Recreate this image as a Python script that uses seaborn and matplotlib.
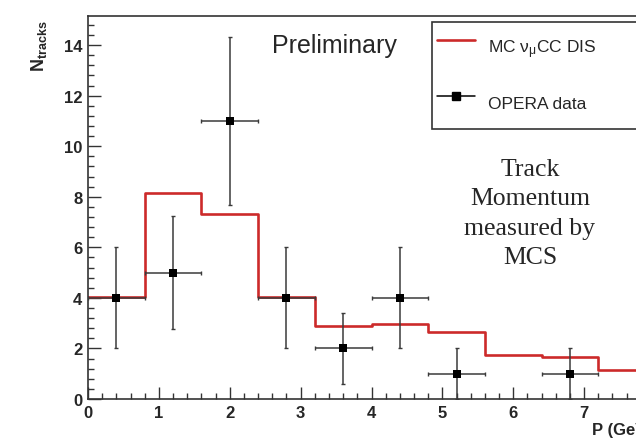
import numpy as np
import matplotlib
matplotlib.use("Agg")
import matplotlib.pyplot as plt
from matplotlib.lines import Line2D
from matplotlib.ticker import MultipleLocator
import seaborn as sns

# MC nu_mu CC DIS prediction (histogram, bin width 0.8 GeV)
mc_edges = [0.0, 0.8, 1.6, 2.4, 3.2, 4.0, 4.8, 5.6, 6.4, 7.2, 8.0]
mc_counts = [4.03, 8.14, 7.32, 4.03, 2.90, 2.95, 2.66, 1.75, 1.65, 1.15]

# OPERA data points
data_p = [0.4, 1.2, 2.0, 2.8, 3.6, 4.4, 5.2, 6.8]
data_n = [4, 5, 11, 4, 2, 4, 1, 1]
data_nerr = [2.0, 2.24, 3.32, 2.0, 1.41, 2.0, 1.0, 1.0]
data_perr = [0.4] * len(data_p)

x_ticks = [0, 1, 2, 3, 4, 5, 6, 7]

sns.set_theme(style="ticks")
plt.rcParams['font.family'] = ['Liberation Sans', 'DejaVu Sans']
plt.rcParams['mathtext.fontset'] = 'custom'
plt.rcParams['mathtext.rm'] = 'Liberation Sans'
plt.rcParams['mathtext.it'] = 'Liberation Sans:italic'
plt.rcParams['mathtext.bf'] = 'Liberation Sans:bold'

fig = plt.figure(figsize=(6.36, 4.39), dpi=100)
W, H = 636, 439
ax = fig.add_axes([88 / W, 39 / H, 567 / W, 383 / H])

red = '#cc2a2a'
centers = [(a + b) / 2 for a, b in zip(mc_edges[:-1], mc_edges[1:])]
sns.histplot(x=centers, weights=mc_counts, bins=mc_edges, element='step',
             fill=False, color=red, linewidth=1.9, ax=ax)

ax.errorbar(data_p, data_n, xerr=data_perr, yerr=data_nerr, fmt='none',
            ecolor='#3a3a3a', elinewidth=1.1, capsize=1.5, capthick=1.0, zorder=3)
sns.scatterplot(x=data_p, y=data_n, marker='s', color='black', s=40,
                edgecolor='black', linewidth=0, ax=ax, zorder=4)

ax.set_xlim(0, 8)
ax.set_ylim(0, 15.15)
ax.set_xlabel('')
ax.set_ylabel('')
ax.set_xticks(x_ticks)
ax.xaxis.set_minor_locator(MultipleLocator(0.2))
ax.yaxis.set_major_locator(MultipleLocator(2))
ax.yaxis.set_minor_locator(MultipleLocator(0.4))
ax.tick_params(which='both', direction='in', color='#333333', width=1.0,
               labelsize=12, pad=4)
ax.tick_params(which='major', length=9)
ax.tick_params(which='minor', length=4.5)
for lab in ax.get_xticklabels() + ax.get_yticklabels():
    lab.set_fontweight('bold')
for sp in ax.spines.values():
    sp.set_visible(True)
    sp.set_color('#333333')
    sp.set_linewidth(1.2)

# legend
handles = [Line2D([], [], color=red, linewidth=1.9),
           Line2D([], [], color='black', linewidth=1.1, marker='s', markersize=5.5)]
labels = [r'MC $\mathregular{\nu_{\mu}}$CC DIS', 'OPERA data']
leg = ax.legend(handles, labels, loc='upper left', mode='expand',
                bbox_to_anchor=(432 / W, 1 - 23 / H - 0.01, 300 / W, 0.01),
                bbox_transform=fig.transFigure, fontsize=12.5, frameon=True,
                fancybox=False, borderpad=0.3, labelspacing=0.9,
                handlelength=2.2, handleheight=3.2, handletextpad=0.7,
                borderaxespad=0)
leg.get_frame().set_edgecolor('#333333')
leg.get_frame().set_linewidth(1.2)
leg.get_frame().set_facecolor('white')
leg.get_frame().set_alpha(1)

fig.text(334 / W, 1 - 46 / H, 'Preliminary', fontsize=18, ha='center', va='center')
fig.text(530 / W, 1 - 214 / H, 'Track\nMomentum\nmeasured by\nMCS',
         family=['Liberation Serif', 'DejaVu Serif'], fontsize=18.5,
         ha='center', va='center', linespacing=1.45)

fig.text(39 / W, 1 - 20 / H, r'$\mathbf{N_{tracks}}$', rotation=90,
         fontsize=13, ha='center', va='top')
fig.text(592 / W, 8 / H, 'P (GeV)', fontsize=12, fontweight='bold',
         ha='left', va='center')

fig.savefig('out.png', dpi=100)
